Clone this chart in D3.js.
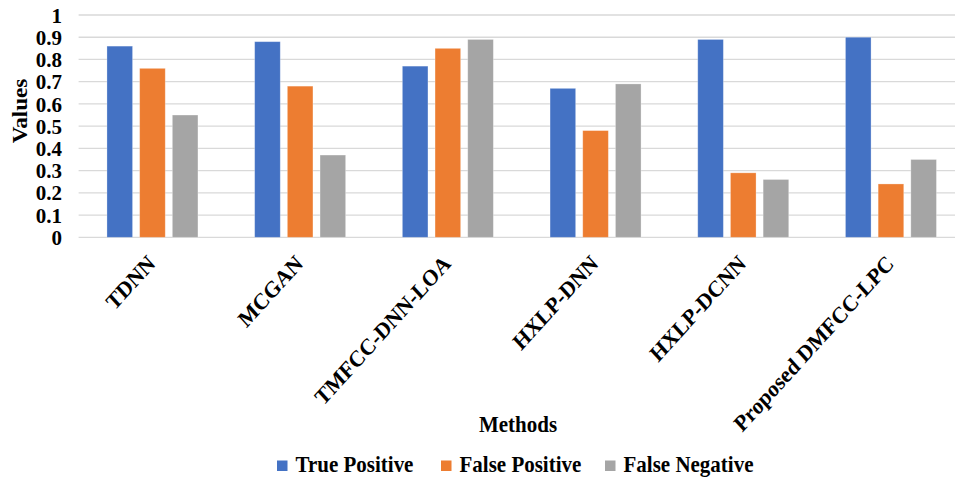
<!DOCTYPE html>
<html><head><meta charset="utf-8">
<script src="https://cdn.jsdelivr.net/npm/d3@7"></script>
<style>body{margin:0;background:#fff}svg{display:block}</style>
</head><body>
<svg id="c" width="955" height="479"></svg>
<script>
const categories = ["TDNN","MCGAN","TMFCC-DNN-LOA","HXLP-DNN","HXLP-DCNN","Proposed DMFCC-LPC"];
const seriesNames = ["True Positive","False Positive","False Negative"];
const truePositive  = [0.86,0.88,0.77,0.67,0.89,0.90];
const falsePositive = [0.76,0.68,0.85,0.48,0.29,0.24];
const falseNegative = [0.55,0.37,0.89,0.69,0.26,0.35];
const yTicks = [0,0.1,0.2,0.3,0.4,0.5,0.6,0.7,0.8,0.9,1];
const colors = ["#4472C4","#ED7D31","#A5A5A5"];
const seriesValues = [truePositive,falsePositive,falseNegative];

(function(){
const svg = d3.select("#c");
const font = "'Liberation Serif','Times New Roman',serif";
const fs = 21, sy = 1.1;
const pLeft = 78.6, pRight = 964.8, pTop = 15, pBottom = 237.3;

const y = d3.scaleLinear().domain([0,1]).range([pBottom, pTop]);
const x0 = d3.scaleBand().domain(categories).range([pLeft,pRight]).paddingInner(0.384).paddingOuter(0.192);
const x1 = d3.scaleBand().domain(seriesNames).range([0,x0.bandwidth()]).paddingInner(0.217).paddingOuter(0);

// gridlines
svg.append("g").selectAll("line").data(yTicks).join("line")
  .attr("x1",pLeft).attr("x2",955)
  .attr("y1",d=>y(d)).attr("y2",d=>y(d))
  .attr("stroke","#d9d9d9").attr("stroke-width",1.3);

// y tick labels
const yAxis = d3.axisLeft(y).tickValues(yTicks).tickSize(0).tickPadding(0).tickFormat(d=>String(+d.toFixed(1)));
const ga = svg.append("g").attr("transform","translate(62,0)").call(yAxis);
ga.select(".domain").remove();
ga.selectAll("text").attr("font-family",font).attr("font-weight","bold").attr("font-size",21).attr("fill","#000")
  .attr("dy","0.34em");

// bars
const groups = svg.append("g").selectAll("g").data(categories).join("g")
  .attr("transform",d=>`translate(${x0(d)},0)`);
groups.selectAll("rect").data((d,i)=>seriesNames.map((s,j)=>({s,j,v:seriesValues[j][i]}))).join("rect")
  .attr("x",d=>x1(d.s)).attr("width",x1.bandwidth())
  .attr("y",d=>y(d.v)).attr("height",d=>y(0)-y(d.v))
  .attr("fill",d=>colors[d.j]).attr("stroke","#fff").attr("stroke-opacity",0.35).attr("stroke-width",0.8);

// x labels
svg.append("g").selectAll("text").data(categories).join("text")
  .attr("transform",d=>`translate(${x0(d)+x0.bandwidth()/2+4},265) scale(1,${sy}) rotate(-45)`)
  .attr("text-anchor","end")
  .attr("font-family",font).attr("font-weight","bold").attr("font-size",fs).attr("fill","#000")
  .text(d=>d);

// axis titles
svg.append("text").attr("transform",`translate(27,111) scale(1,${sy}) rotate(-90)`).attr("text-anchor","middle")
  .attr("font-family",font).attr("font-weight","bold").attr("font-size",fs).text("Values");
svg.append("text").attr("transform",`translate(518,431.5) scale(1,${sy})`).attr("text-anchor","middle")
  .attr("font-family",font).attr("font-weight","bold").attr("font-size",fs).text("Methods");

// legend
const legX = [277,441,605];
const lg = svg.append("g").selectAll("g").data(seriesNames).join("g")
  .attr("transform",(d,i)=>`translate(${legX[i]},471.5)`);
lg.append("rect").attr("x",0).attr("y",-11).attr("width",10.5).attr("height",10.5).attr("fill",(d,i)=>colors[i]);
lg.append("text").attr("transform",`translate(18.5,0) scale(1,${sy})`)
  .attr("font-family",font).attr("font-weight","bold").attr("font-size",fs).text(d=>d);
})();
</script>
</body></html>
